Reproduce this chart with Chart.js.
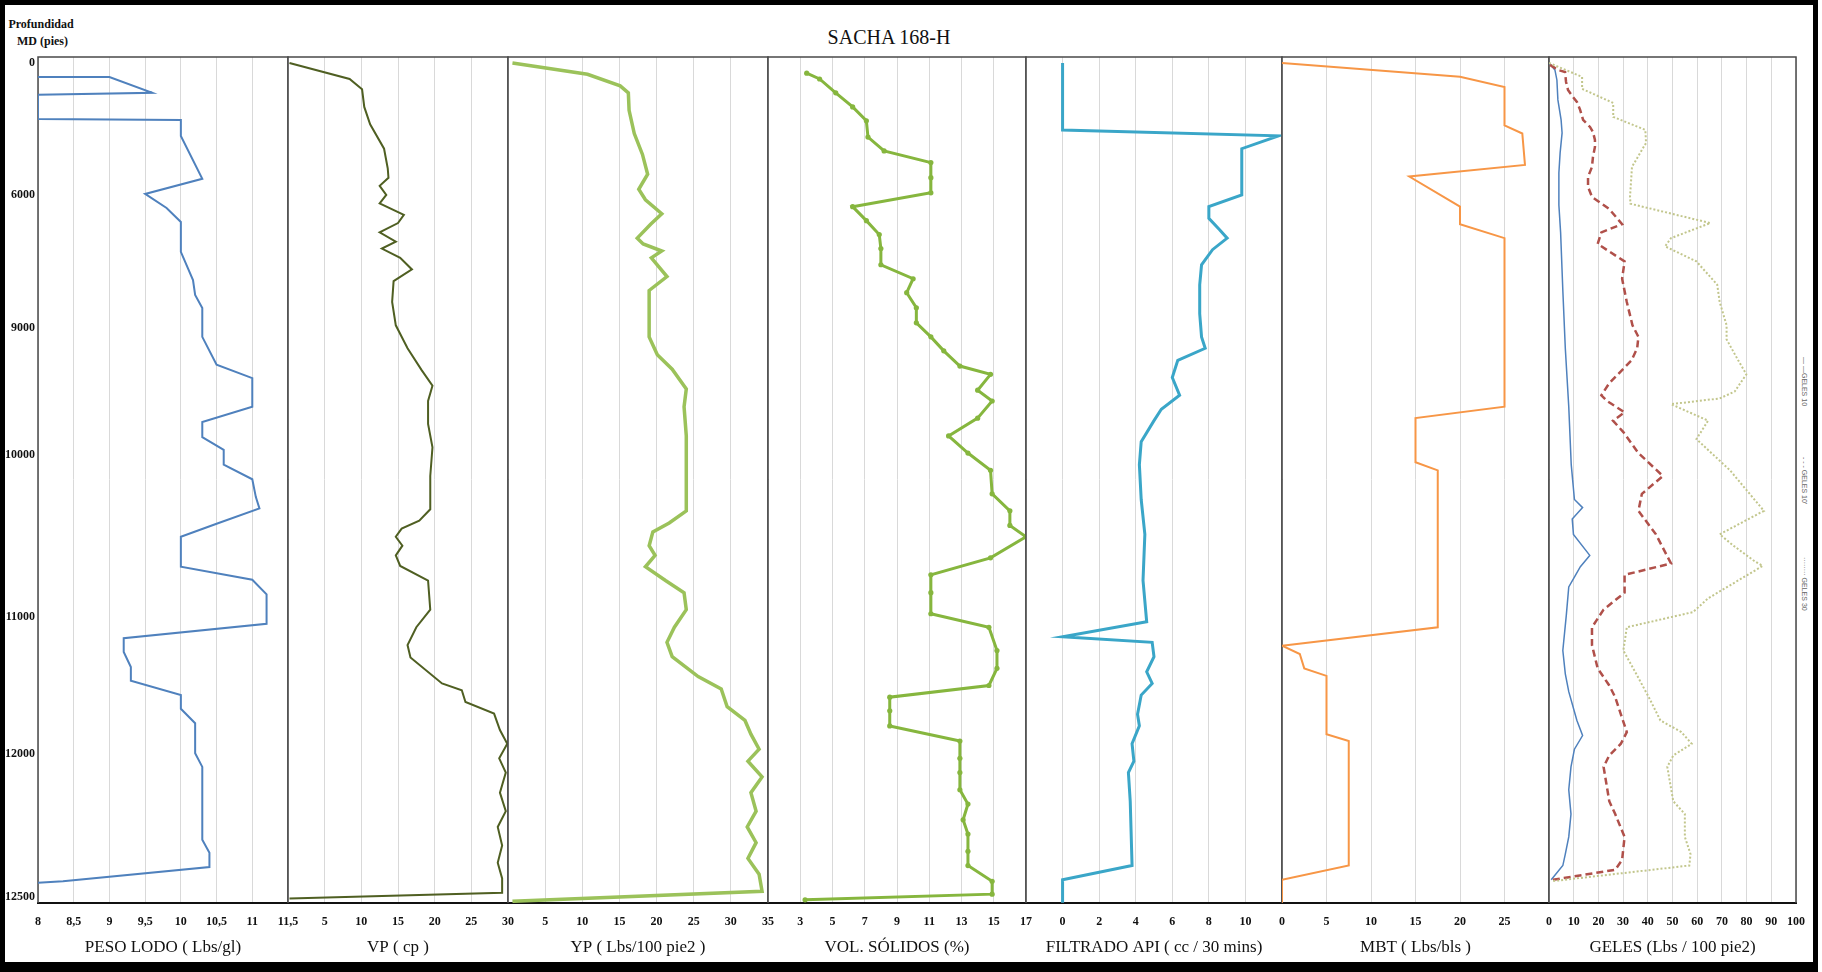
<!DOCTYPE html>
<html lang="es">
<head>
<meta charset="utf-8">
<title>SACHA 168-H</title>
<script src="https://cdn.jsdelivr.net/npm/chart.js@4.4.1/dist/chart.umd.min.js"></script>
<style>
  html, body { margin: 0; padding: 0; background: #fff; }
  body { position: relative; width: 1822px; height: 972px; overflow: hidden; font-family: 'Liberation Serif', serif; color: #111; }
  canvas { position: absolute; top: 0; }
  .txt { position: absolute; white-space: nowrap; }
  #frame { position: absolute; left: 0; top: 0; width: 1818px; height: 972px; box-sizing: border-box; border: 5px solid #000; border-bottom-width: 10px; }
  .leg { position: absolute; left: 1801px; writing-mode: vertical-rl; font: 7px 'Liberation Sans', sans-serif; color: #666; white-space: nowrap; }
</style>
</head>
<body>
<div id="frame"></div>
<div class="txt" style="left:0;width:1778px;top:26px;text-align:center;font-size:20px">SACHA 168-H</div>
<div class="txt" style="left:8px;width:66px;top:16px;text-align:center;font-size:12px;font-weight:bold;line-height:17px">Profundidad<br>&nbsp;MD (pies)</div>
<div class="leg" style="top:357px">— —GELES 10</div>
<div class="leg" style="top:457px">- - - GELES 10'</div>
<div class="leg" style="top:557px">········ GELES 30</div>
<script>
// MD depth (pies) of each reading, and the readings
const pesoDepth = [640, 640, 1360, 1450, 2545, 2590, 3320, 5270, 5955, 6295, 6610, 7285, 7920, 8255, 8550, 9070, 9290, 9395, 9620, 9740, 9860, 9960, 10060, 10150, 10260, 10330, 10425, 10505, 10690, 10770, 10860, 11050, 11155, 11255, 11365, 11465, 11570, 11670, 11775, 11995, 12045, 12300, 12345, 12395, 12445, 12450];
const pesoLodo = [8, 9, 9.6, 8, 8, 10, 10, 10.3, 9.5, 9.8, 10, 10, 10.17, 10.2, 10.3, 10.3, 10.5, 11, 11, 10.3, 10.3, 10.6, 10.6, 11, 11.05, 11.1, 10.5, 10, 10, 11, 11.2, 11.2, 9.2, 9.2, 9.3, 9.3, 10, 10, 10.2, 10.2, 10.3, 10.3, 10.4, 10.4, 8.35, 8];

const vpDepth = [0, 730, 1200, 2000, 2790, 3900, 4790, 5220, 5590, 6000, 6190, 6450, 6635, 6845, 7055, 7210, 7420, 7680, 7945, 8415, 8940, 9160, 9330, 9455, 9575, 9755, 9940, 10130, 10335, 10405, 10455, 10505, 10560, 10620, 10685, 10775, 10955, 11075, 11205, 11295, 11485, 11535, 11620, 11705, 11825, 11925, 12015, 12065, 12135, 12200, 12255, 12320, 12380, 12435, 12485, 12505];
const vp = [0.2, 8.4, 10.1, 10.4, 11.2, 13.1, 13.6, 13.7, 12.5, 13.4, 12.5, 15.8, 15.0, 12.5, 14.7, 12.8, 15.3, 16.9, 14.4, 14.2, 14.7, 16.3, 18.2, 19.7, 19.1, 19.1, 19.7, 19.4, 19.4, 17.9, 15.5, 14.7, 15.6, 14.7, 15.3, 19.1, 19.4, 17.5, 16.3, 16.7, 21.0, 23.7, 24.2, 28.1, 28.9, 29.9, 28.8, 29.7, 28.9, 29.7, 28.6, 29.2, 28.6, 29.2, 29.2, 0.2];

const ypDepth = [0, 515, 1045, 1360, 2155, 3210, 4160, 5060, 5745, 6110, 6425, 6660, 6975, 7105, 7265, 7420, 7840, 8155, 8680, 9070, 9210, 9325, 9480, 9620, 9850, 10060, 10345, 10420, 10475, 10560, 10620, 10690, 10775, 10850, 10955, 11075, 11185, 11290, 11435, 11525, 11655, 11755, 11855, 11965, 12025, 12080, 12135, 12200, 12255, 12310, 12365, 12420, 12480, 12515];
const yp = [0.6, 10.7, 15.1, 16.2, 16.3, 17.0, 18.1, 18.8, 17.6, 18.5, 20.7, 19.2, 17.4, 18.2, 20.7, 19.3, 21.4, 19.0, 19.0, 19.0, 20.1, 22.1, 24.0, 23.7, 24.0, 24.0, 24.0, 21.7, 19.5, 19.0, 19.8, 18.5, 21.2, 23.7, 24.0, 22.4, 21.4, 22.1, 25.6, 28.7, 29.5, 31.9, 32.7, 33.8, 32.3, 34.2, 32.7, 33.4, 32.2, 33.4, 32.3, 33.8, 34.2, 0.6];

const volDepth = [465, 730, 1360, 2000, 2630, 3370, 4000, 4530, 5215, 5905, 6265, 6580, 6895, 7210, 7575, 7890, 8205, 8545, 8885, 9070, 9180, 9300, 9365, 9490, 9575, 9710, 9850, 9985, 10095, 10240, 10345, 10435, 10505, 10635, 10740, 10850, 10980, 11075, 11245, 11375, 11500, 11585, 11685, 11795, 11905, 12015, 12065, 12125, 12175, 12230, 12280, 12340, 12390, 12445, 12490, 12510];
const volSolidos = [3.4, 4.2, 5.2, 6.25, 7.1, 7.2, 8.2, 11.1, 11.1, 11.1, 6.25, 7.1, 7.9, 8.0, 8.0, 10.0, 9.6, 10.2, 10.2, 11.1, 11.9, 12.9, 14.8, 14.0, 14.9, 14.0, 12.2, 13.4, 14.8, 14.9, 16.0, 16.0, 17.0, 14.8, 11.1, 11.1, 11.1, 14.7, 15.2, 15.2, 14.7, 8.55, 8.55, 8.55, 12.9, 12.9, 12.9, 12.9, 13.4, 13.1, 13.4, 13.4, 13.4, 14.9, 14.9, 3.3];

const filDepth = [0, 3050, 3315, 3900, 6000, 6265, 6530, 6790, 6975, 7235, 7575, 8025, 8680, 9070, 9160, 9255, 9390, 9530, 9640, 9730, 9895, 10060, 10275, 10490, 10775, 11035, 11145, 11185, 11290, 11400, 11485, 11570, 11710, 11795, 11925, 12025, 12065, 12165, 12390, 12440, 12520];
const filtrado = [0, 0, 11.8, 9.8, 9.8, 8.0, 8.0, 8.6, 9.0, 8.2, 7.6, 7.5, 7.5, 7.6, 7.8, 6.3, 6.0, 6.4, 5.4, 5.0, 4.3, 4.2, 4.3, 4.5, 4.4, 4.6, 0, 4.9, 5.0, 4.6, 4.9, 4.3, 4.1, 4.2, 3.8, 3.9, 3.6, 3.7, 3.8, 0, 0];

const mbtDepth = [0, 625, 1100, 2840, 3210, 4635, 5165, 6265, 6660, 6975, 9620, 9710, 10045, 10095, 11075, 11210, 11270, 11375, 11430, 11855, 11905, 12390, 12440, 12520];
const mbt = [0, 20, 25, 25, 27, 27.3, 14.3, 20, 20, 25, 25, 15, 15, 17.5, 17.5, 0, 2, 2.5, 5, 5, 7.5, 7.5, 0, 0];

const g10Depth = [0, 320, 775, 1680, 2590, 3180, 4090, 5000, 6230, 6845, 8155, 9160, 9620, 10060, 10275, 10325, 10395, 10490, 10620, 10690, 10740, 10815, 10990, 11245, 11415, 11545, 11755, 11865, 11965, 12045, 12125, 12210, 12290, 12350, 12390, 12440];
const geles10 = [0, 2.4, 3.2, 3.6, 4.9, 5.3, 4.5, 4.0, 4.0, 4.7, 5.6, 6.6, 8, 9, 10.3, 13.6, 9.4, 9.9, 16.5, 12.7, 10.8, 8, 7, 5.6, 6.6, 8, 11.3, 13.6, 10.3, 8.9, 8, 8.9, 8, 6.6, 5.6, 0.9];

const g10mDepth = [90, 320, 410, 865, 1230, 1545, 1770, 2135, 2590, 2910, 3135, 3500, 3820, 4270, 4730, 5180, 5635, 6045, 6320, 6660, 6845, 7105, 7500, 7890, 8415, 8940, 9070, 9160, 9255, 9435, 9530, 9575, 9665, 9730, 9820, 9985, 10130, 10240, 10345, 10490, 10670, 10740, 10850, 10955, 11075, 11205, 11375, 11500, 11585, 11710, 11840, 11925, 12005, 12045, 12165, 12210, 12290, 12370, 12405, 12440];
const geles10m = [0.4, 3.6, 6.5, 6.9, 7.7, 9.7, 11.3, 12.6, 13.8, 16.6, 17.8, 18.6, 18.6, 17.8, 17.4, 15.8, 15.8, 17.4, 24.4, 29.6, 21.2, 19.7, 30.6, 29.6, 31.5, 33.8, 36.2, 35.7, 33.4, 24.4, 21.2, 23.5, 30.6, 25.9, 30.1, 36.2, 46.1, 37.6, 36.2, 43.3, 49.4, 30.6, 30.6, 22.1, 17.4, 17.4, 19.7, 24.4, 26.8, 29.1, 31.5, 29.1, 24.4, 22.1, 24.4, 26.8, 30.6, 29.6, 26.8, 1.4];

const g30Depth = [0, 635, 1180, 1820, 2455, 3045, 3635, 4725, 6045, 6200, 6635, 6975, 7160, 7500, 8025, 8415, 8940, 9090, 9255, 9365, 9500, 9555, 9600, 9730, 9875, 10095, 10345, 10490, 10560, 10650, 10685, 10885, 10970, 11075, 11245, 11415, 11585, 11755, 11840, 11925, 12005, 12045, 12165, 12210, 12290, 12350, 12390, 12445];
const geles30 = [0, 13.4, 13.4, 26, 26, 39, 39.3, 33.6, 32.8, 33, 65.3, 49.4, 47, 59.7, 68.1, 69.1, 71.9, 71.9, 76.6, 79.9, 75.2, 69.1, 49.4, 64.4, 59.7, 73.3, 87, 69.1, 74.7, 82.7, 86.5, 64.4, 58.3, 31.5, 30.1, 35.3, 40.4, 45.1, 53.6, 57.8, 50.3, 47.9, 50.3, 55, 55, 57.3, 56.8, 1];

// labelled depths on the left axis
const depthTicks = [0, 6000, 9000, 10000, 11000, 12000, 12500];

// the depth axis is not linear: each labelled depth has its own place down the track
const depthPos = [0.007, 0.163, 0.3203, 0.4704, 0.6619, 0.8239, 0.9929];

class DepthScale extends Chart.LinearScale {
  static id = 'depth';
  static defaults = Chart.LinearScale.defaults;

  toFrac(v) {
    const d = depthTicks, f = depthPos;
    let i = 1;
    while (i < d.length - 1 && v > d[i]) i++;
    return f[i - 1] + (v - d[i - 1]) * (f[i] - f[i - 1]) / (d[i] - d[i - 1]);
  }
  getPixelForValue(v) {
    if (v === null || v === undefined || isNaN(v)) return NaN;
    return this.top + this.toFrac(v) * (this.bottom - this.top);
  }
  getValueForPixel(p) {
    const d = depthTicks, f = depthPos;
    const t = (p - this.top) / (this.bottom - this.top);
    let i = 1;
    while (i < f.length - 1 && t > f[i]) i++;
    return d[i - 1] + (t - f[i - 1]) * (d[i] - d[i - 1]) / (f[i] - f[i - 1]);
  }
}
Chart.register(DepthScale);

Chart.defaults.font.family = "'Liberation Serif', 'Times New Roman', serif";
Chart.defaults.color = '#111';

function curve(depth, values, style) {
  return Object.assign({
    data: depth.map((d, i) => ({ x: values[i], y: d })),
    showLine: true,
    fill: false,
    pointRadius: 0,
    tension: 0
  }, style);
}

const tracks = [
  { left: 38, right: 288, min: 8, max: 11.5, step: 0.5, hide: [], title: 'PESO LODO ( Lbs/gl)',
    series: [curve(pesoDepth, pesoLodo, { borderColor: '#4F81BD', borderWidth: 2 })] },
  { left: 288, right: 508, min: 0, max: 30, step: 5, hide: [0], title: 'VP ( cp )',
    series: [curve(vpDepth, vp, { borderColor: '#4F5F22', borderWidth: 2 })] },
  { left: 508, right: 768, min: 0, max: 35, step: 5, hide: [0], title: 'YP ( Lbs/100 pie2 )',
    series: [curve(ypDepth, yp, { borderColor: '#9BC25A', borderWidth: 3.5 })] },
  { left: 768, right: 1026, min: 1, max: 17, step: 2, hide: [1], title: 'VOL. SÓLIDOS (%)',
    series: [curve(volDepth, volSolidos, { borderColor: '#86B63E', borderWidth: 3,
      pointRadius: 2.6, pointBackgroundColor: '#86B63E', pointBorderWidth: 0 })] },
  { left: 1026, right: 1282, min: -2, max: 12, step: 2, hide: [-2, 12], title: 'FILTRADO API ( cc / 30 mins)',
    series: [curve(filDepth, filtrado, { borderColor: '#3AA6C8', borderWidth: 3 })] },
  { left: 1282, right: 1549, min: 0, max: 30, step: 5, hide: [30], title: 'MBT ( Lbs/bls )',
    series: [curve(mbtDepth, mbt, { borderColor: '#F79646', borderWidth: 2 })] },
  { left: 1549, right: 1796, min: 0, max: 100, step: 10, hide: [], title: 'GELES (Lbs / 100 pie2)',
    series: [
      curve(g30Depth, geles30, { borderColor: '#C2C68C', borderWidth: 2, borderDash: [2, 2] }),
      curve(g10mDepth, geles10m, { borderColor: '#B0504A', borderWidth: 2.5, borderDash: [7, 4] }),
      curve(g10Depth, geles10, { borderColor: '#4F81BD', borderWidth: 1.5 })
    ] }
];

// dark lines round each track (left, top, right)
const trackFrame = {
  id: 'trackFrame',
  beforeDatasetsDraw(chart) {
    const { ctx, chartArea: a } = chart;
    ctx.save();
    ctx.strokeStyle = '#4a4a4a';
    ctx.lineWidth = 1.5;
    ctx.beginPath();
    ctx.moveTo(a.left, a.bottom);
    ctx.lineTo(a.left, a.top);
    ctx.lineTo(a.right, a.top);
    ctx.lineTo(a.right, a.bottom);
    ctx.stroke();
    ctx.restore();
  }
};

const PAD = 24;
const H = 972;

tracks.forEach((t, k) => {
  const first = k === 0;
  const x0 = first ? 0 : t.left - PAD;
  const w = t.right + PAD - x0;
  const cv = document.createElement('canvas');
  cv.width = w;
  cv.height = H;
  cv.style.left = x0 + 'px';
  cv.style.width = w + 'px';
  cv.style.height = H + 'px';
  document.body.appendChild(cv);

  new Chart(cv, {
    type: 'scatter',
    data: { datasets: t.series },
    options: {
      responsive: false,
      animation: false,
      events: [],
      layout: { padding: { top: 57, bottom: 0, left: first ? 0 : PAD, right: PAD } },
      plugins: { legend: { display: false }, tooltip: { enabled: false } },
      scales: {
        x: {
          type: 'linear',
          position: 'bottom',
          min: t.min,
          max: t.max,
          ticks: {
            stepSize: t.step,
            autoSkip: false,
            maxRotation: 0,
            padding: 12,
            color: '#111',
            font: { size: 12, weight: 'bold' },
            callback: v => t.hide.includes(v) ? '' : String(v).replace('.', ',')
          },
          grid: { color: '#d9d9d9', lineWidth: 1, drawTicks: false },
          border: { color: '#111', width: 2 },
          title: { display: true, text: t.title, color: '#111', font: { size: 17 }, padding: { top: 0, bottom: 14 } },
          afterFit: s => { s.height = 69; }
        },
        y: {
          type: 'depth',
          min: -300,
          max: 12600,
          display: first,
          position: 'left',
          afterBuildTicks: s => { s.ticks = depthTicks.map(v => ({ value: v })); },
          afterFit: s => { s.width = first ? 38 : 0; },
          ticks: { autoSkip: false, padding: 3, color: '#111', font: { size: 12, weight: 'bold' }, callback: v => String(v) },
          grid: { display: false, drawTicks: false },
          border: { display: false }
        }
      }
    },
    plugins: [trackFrame]
  });
});
</script>
</body>
</html>
